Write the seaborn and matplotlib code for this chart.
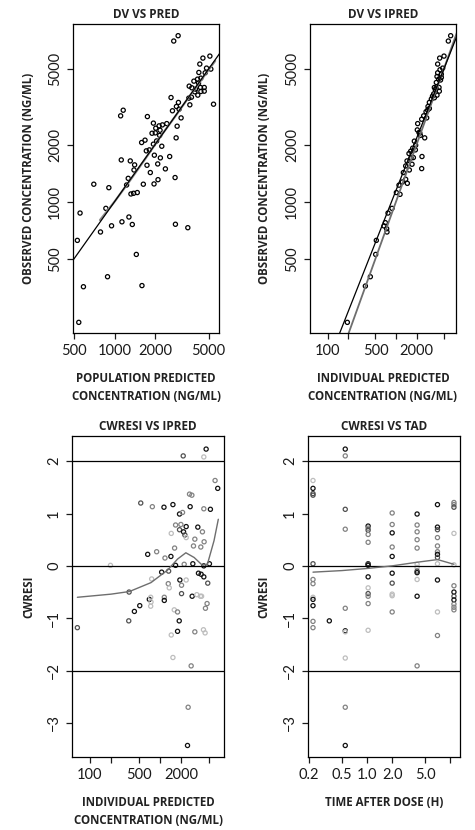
import pandas as pd
import seaborn as sns
import matplotlib.pyplot as plt
from matplotlib.ticker import FixedLocator, NullLocator

sns.set_style("ticks")
plt.rcParams["font.family"] = ["Lato", "DejaVu Sans"]
plt.rcParams["axes.edgecolor"] = "black"
plt.rcParams["axes.linewidth"] = 0.9

# ---------- Data ------------------------------------------------- #
# DV vs PRED
pred = [2970, 2755, 5115, 4540, 4305, 4830, 5200, 4235, 4720, 4385,
        4140, 3890, 3590, 3755, 4000, 4355, 4210, 4645, 3955, 4385,
        4645, 4160, 3730, 3565, 5445, 3630, 2630, 2985, 2885, 3020,
        2695, 3125, 1160, 1110, 1755, 2920, 2445, 1945, 2270, 2145,
        2025, 2180, 1900, 2010, 2165, 2870, 1685, 1590, 2055, 1945,
        2245, 1815, 1723, 2570, 1977, 2192, 1122, 1309, 1410, 1743,
        2094, 1395, 2388, 1845, 1264, 2819, 2105, 701, 1637, 1966,
        907, 1229, 1324, 1386, 1476, 862, 554, 1279, 1135, 950,
        1355, 2836, 3506, 786, 529, 1452, 887, 587, 1599, 542]
dv_pred = [7500, 7030, 5855, 5715, 5315, 5060, 5000, 4800, 4780, 4480,
           4425, 4320, 4065, 3985, 3920, 4000, 4215, 4000, 3795, 3810,
           3825, 3645, 3555, 3515, 3265, 3240, 3540, 3335, 3175, 3075,
           3015, 2765, 3035, 2835, 2810, 2500, 2580, 2595, 2540, 2510,
           2440, 2380, 2295, 2305, 2235, 2170, 2110, 2050, 2090, 2010,
           1960, 1875, 1853, 1730, 1758, 1702, 1660, 1640, 1563, 1556,
           1581, 1469, 1489, 1424, 1327, 1340, 1306, 1236, 1236, 1240,
           1185, 1224, 1098, 1107, 1117, 922, 871, 830, 783, 746,
           758, 760, 729, 692, 625, 527, 402, 356, 361, 231]
smooth1_x = [780, 1000, 1300, 1700, 2200, 2800, 3500, 4500, 5600]
smooth1_y = [800, 1000, 1290, 1690, 2210, 2790, 3490, 4470, 5520]

# DV vs IPRED
ipred = [6310, 5830, 5040, 4355, 4070, 4820, 4400, 4070, 4605, 3980,
         4605, 4210, 3890, 3640, 4260, 3765, 4305, 3980, 3640, 3290,
         3075, 2940, 3075, 2750, 2540, 2810, 2375, 2075, 2050, 2170,
         2270, 2630, 1855, 1940, 1755, 1640, 1920, 1549, 1795, 2400,
         1449, 1715, 1385, 1567, 2375, 1281, 1385, 1238, 1465, 1106,
         1012, 1145, 874, 764, 667, 730, 698, 738, 515, 504,
         421, 356, 194, 3420, 3850, 2900, 2230, 1660, 4480, 3560]
dv_ipred = [7500, 7030, 5855, 5715, 5315, 5060, 4960, 4780, 4700, 4570,
            4520, 4425, 4250, 4000, 4000, 3890, 3825, 3645, 3530, 3475,
            3335, 3175, 3100, 2980, 2835, 2765, 2720, 2580, 2390, 2315,
            2235, 2170, 2085, 1985, 1915, 1845, 1875, 1794, 1708, 1730,
            1640, 1575, 1543, 1469, 1494, 1424, 1312, 1270, 1249, 1222,
            1117, 1093, 922, 871, 745, 720, 775, 692, 625, 527,
            402, 359, 231, 3600, 3960, 3040, 2300, 1700, 4380, 3700]
fit2_x = [150, 7640]
fit2_y = [203, 7340]

# CWRESI vs IPRED
cw_ipred = [4530, 2140, 4200, 6070, 6620, 2630, 2840, 533, 779, 1140,
            1528, 2685, 4200, 5210, 1897, 2094, 1667, 1983, 2358, 1897,
            2163, 2259, 2358, 1447, 3450, 4015, 3130, 4240, 2995, 3805,
            1614, 669, 897, 1178, 1431, 198, 2209, 2931, 4200, 5046,
            1667, 1056, 1327, 762, 1918, 2358, 3525, 3845, 4200, 4776,
            1312, 1355, 2026, 2026, 364, 2868, 3340, 3760, 3905, 4673,
            4430, 516, 706, 738, 746, 738, 1152, 1152, 433, 1596,
            1778, 1878, 360, 67, 1778, 3130, 4150, 4380, 1447, 1528,
            2775, 2515, 2463]
cw_res3 = [2.23, 2.10, 2.08, 1.63, 1.48, 1.37, 1.35, 1.20, 1.13, 1.12,
           1.17, 1.13, 1.09, 1.08, 0.99, 1.02, 0.78, 0.79, 0.75, 0.69,
           0.65, 0.59, 0.54, 0.62, 0.74, 0.65, 0.51, 0.46, 0.38, 0.36,
           0.34, 0.22, 0.27, 0.15, 0.18, 0.01, 0.03, 0.04, 0.00, 0.04,
           0.01, -0.12, -0.10, -0.25, -0.27, -0.27, -0.14, -0.16, -0.21, -0.33,
           -0.34, -0.42, -0.37, -0.53, -0.50, -0.58, -0.55, -0.58, -0.58, -0.72,
           -0.81, -0.76, -0.64, -0.60, -0.69, -0.77, -0.60, -0.66, -0.87, -0.84,
           -0.88, -1.05, -1.05, -1.18, -1.25, -1.26, -1.22, -1.28, -1.32, -1.75,
           -1.91, -2.70, -3.43]
shade3 = list("kdlmkmmdmk"
              "kkmkkmmmkd"
              "kdllkmmmmm"
              "mkmmklmkkk"
              "kkdlklkkkd"
              "mlmddklllm"
              "mkklllmkkl"
              "mkddkmllll"
              "mmk")
smooth3_x = [67, 202, 368, 745, 1284, 1778, 2333, 3060, 4015, 4720, 5863, 6750]
smooth3_y = [-0.60, -0.54, -0.49, -0.32, -0.08, 0.13, 0.25, 0.16, 0.01, 0.03, 0.48, 0.89]

# CWRESI vs TAD
tad = ([0.225] * 12 + [0.353] + [0.548] * 10 + [1.03] * 14 + [2.0] * 10
       + [3.98] * 12 + [6.98] * 12 + [11.0] * 12)
cw_res4 = [1.63, 1.48, 1.38, 1.35, 0.04, -0.26, -0.34, -0.60, -0.64, -0.76, -1.06, -1.18,
           -1.05,
           2.23, 2.10, 1.08, 0.70, -0.81, -1.24, -1.26, -1.76, -2.70, -3.43,
           0.76, 0.72, 0.68, 0.60, 0.45, 0.04, 0.03, 0.01, -0.21, -0.42, -0.53, -0.58, -0.72, -1.23,
           1.01, 0.79, 0.63, 0.36, 0.18, -0.14, -0.33, -0.54, -0.57, -0.88,
           0.99, 0.78, 0.65, 0.50, 0.34, 0.03, -0.03, -0.10, -0.13, -0.26, -0.58, -1.91,
           1.17, 0.74, 0.69, 0.54, 0.38, 0.27, 0.22, 0.16, 0.04, -0.27, -0.88, -1.33,
           1.21, 1.17, 1.12, 0.62, 0.02, -0.38, -0.50, -0.58, -0.65, -0.73, -0.79, -0.84]
shade4 = list("lkdddmmlkkmm" "k" "kmdmmkllmk" "kmdmmkdkkldmml"
              "mmkmkkdllm" "kmmmmlldklkm" "kkdmmmkdlklm" "mmdllmkdkmmm")
smooth4_x = [0.225, 0.5, 1.0, 2.0, 4.0, 7.0, 11.0]
smooth4_y = [-0.12, -0.09, -0.05, 0.00, 0.07, 0.12, 0.03]

shades = {"k": "#111111", "d": "#505050", "m": "#828282", "l": "#bdbdbd"}

# ---------- Figure ------------------------------------------------ #
W, H = 475, 830
fig = plt.figure(figsize=(W / 100, H / 100), dpi=100)

def box(x0, y0, x1, y1):
    return fig.add_axes([x0 / W, 1 - y1 / H, (x1 - x0) / W, (y1 - y0) / H])

ax1 = box(73, 24, 219, 333)
ax2 = box(310, 24, 456, 333)
ax3 = box(72, 436, 224, 757)
ax4 = box(308, 436, 460, 757)

def hollow(ax, lw=0.9):
    coll = ax.collections[-1]
    fc = coll.get_facecolors()
    coll.set_edgecolors(fc)
    coll.set_facecolors("none")
    coll.set_linewidths(lw)

# panel 1
df1 = pd.DataFrame({"PRED": pred, "DV": dv_pred})
ax1.plot(smooth1_x, smooth1_y, color="#8a8a8a", lw=1.6)
ax1.plot([100, 20000], [100, 20000], color="black", lw=0.9)
sns.scatterplot(data=df1, x="PRED", y="DV", color="black", s=9, ax=ax1)
hollow(ax1)

# panel 2
df2 = pd.DataFrame({"IPRED": ipred, "DV": dv_ipred})
ax2.plot([50, 20000], [50, 20000], color="#6e6e6e", lw=1.3)
ax2.plot(fit2_x, fit2_y, color="black", lw=0.9)
sns.scatterplot(data=df2, x="IPRED", y="DV", color="black", s=9, ax=ax2)
hollow(ax2)

# panel 3
df3 = pd.DataFrame({"IPRED": cw_ipred, "CWRESI": cw_res3, "grp": shade3})
for ax in (ax3, ax4):
    for h in (-2, 0, 2):
        ax.axhline(h, color="black", lw=0.9)
sns.scatterplot(data=df3, x="IPRED", y="CWRESI", hue="grp", palette=shades,
                s=9, legend=False, ax=ax3)
hollow(ax3)
ax3.plot(smooth3_x, smooth3_y, color="#6e6e6e", lw=1.0)

# panel 4
df4 = pd.DataFrame({"TAD": tad, "CWRESI": cw_res4, "grp": shade4})
sns.scatterplot(data=df4, x="TAD", y="CWRESI", hue="grp", palette=shades,
                s=9, legend=False, ax=ax4)
hollow(ax4)
ax4.plot(smooth4_x, smooth4_y, color="#6e6e6e", lw=1.0)

# ---------- Scales & ticks --------------------------------------- #
def ticks(ax, xt, xl, yt, yl):
    ax.xaxis.set_major_locator(FixedLocator(xt))
    ax.xaxis.set_minor_locator(NullLocator())
    ax.set_xticklabels(xl)
    ax.yaxis.set_major_locator(FixedLocator(yt))
    ax.yaxis.set_minor_locator(NullLocator())
    ax.set_yticklabels(yl, rotation=90, va="center")
    ax.tick_params(length=4.3, width=0.9, labelsize=10.5, pad=3.5, colors="#1a1a1a")
    ax.set_xlabel(""); ax.set_ylabel("")
    for s in ax.spines.values():
        s.set_visible(True)

conc_t = [500, 1000, 2000, 5000]
conc_l = ["500", "1000", "2000", "5000"]
ip_t = [100, 200, 500, 1000, 2000, 5000]
ip_l = ["100", "", "500", "", "2000", ""]
cw_t = [-3, -2, -1, 0, 1, 2]
cw_l = ["\u22123", "\u22122", "\u22121", "0", "1", "2"]

for ax in (ax1, ax2, ax3, ax4):
    ax.set_xscale("log")
for ax in (ax1, ax2):
    ax.set_yscale("log")

ax1.set_xlim(491, 5980); ax1.set_ylim(203, 8645)
ax2.set_xlim(55.1, 7551); ax2.set_ylim(203, 8645)
ax3.set_xlim(56.2, 8130); ax3.set_ylim(-3.65, 2.48)
ax4.set_xlim(0.196, 13.0); ax4.set_ylim(-3.65, 2.48)

ticks(ax1, conc_t, conc_l, conc_t, conc_l)
ticks(ax2, ip_t, ip_l, conc_t, conc_l)
ticks(ax3, ip_t, ip_l, cw_t, cw_l)
ticks(ax4, [0.2, 0.5, 1, 2, 5, 10], ["0.2", "0.5", "1.0", "2.0", "5.0", ""], cw_t, cw_l)

# ---------- Text -------------------------------------------------- #
def put(x, y, s, **kw):
    fig.text(x / W, 1 - y / H, s, ha="center", va="center", color="#222222", **kw)

tkw = dict(fontsize=8.5, fontweight="bold", family=["Open Sans", "DejaVu Sans"])
lkw = dict(fontsize=8.3, fontweight="bold", family=["Open Sans", "DejaVu Sans"])

put(146, 14, "DV VS PRED", **tkw)
put(383, 14, "DV VS IPRED", **tkw)
put(148, 426, "CWRESI VS IPRED", **tkw)
put(384, 426, "CWRESI VS TAD", **tkw)

put(146, 378, "POPULATION PREDICTED", **lkw)
put(146, 396, "CONCENTRATION (NG/ML)", **lkw)
put(383, 378, "INDIVIDUAL PREDICTED", **lkw)
put(383, 396, "CONCENTRATION (NG/ML)", **lkw)
put(148, 802, "INDIVIDUAL PREDICTED", **lkw)
put(148, 820, "CONCENTRATION (NG/ML)", **lkw)
put(384, 802, "TIME AFTER DOSE (H)", **lkw)

put(29, 178.5, "OBSERVED CONCENTRATION (NG/ML)", rotation=90, **lkw)
put(264, 178.5, "OBSERVED CONCENTRATION (NG/ML)", rotation=90, **lkw)
put(29, 596.5, "CWRESI", rotation=90, **lkw)
put(264, 596.5, "CWRESI", rotation=90, **lkw)

fig.savefig("out.png", dpi=100, facecolor="white")
